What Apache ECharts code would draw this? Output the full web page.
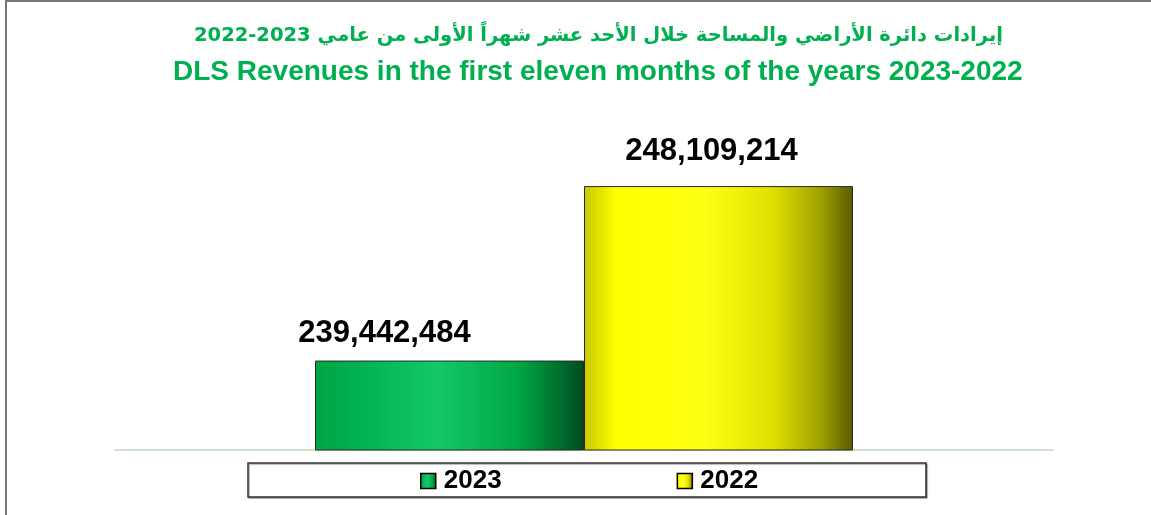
<!DOCTYPE html>
<html>
<head>
<meta charset="utf-8">
<script src="https://cdn.jsdelivr.net/npm/echarts@6/dist/echarts.min.js"></script>
<style>
html,body{margin:0;padding:0;background:#fff;}
#c{width:1151px;height:515px;}
</style>
</head>
<body>
<div id="c"></div>
<script>
const titleAr = 'إيرادات دائرة الأراضي والمساحة خلال الأحد عشر شهراً الأولى من عامي 2023-2022';
const titleEn = 'DLS Revenues in the first eleven months of the years 2023-2022';
const categories = [''];
const seriesNames = ['2023', '2022'];
const values2023 = [239442484];
const values2022 = [248109214];

const chart = echarts.init(document.getElementById('c'));
const fmt = v => v.toLocaleString('en-US');

const greenGrad = new echarts.graphic.LinearGradient(0, 0, 1, 0, [
  {offset: 0, color: '#00a444'},
  {offset: 0.15, color: '#00b050'},
  {offset: 0.45, color: '#14c868'},
  {offset: 0.75, color: '#00a846'},
  {offset: 0.92, color: '#006a2c'},
  {offset: 1, color: '#004a1e'}
]);
const yellowGrad = new echarts.graphic.LinearGradient(0, 0, 1, 0, [
  {offset: 0, color: '#c8c800'},
  {offset: 0.12, color: '#ffff00'},
  {offset: 0.45, color: '#ffff14'},
  {offset: 0.7, color: '#e0e000'},
  {offset: 0.88, color: '#a0a000'},
  {offset: 1, color: '#5a5a00'}
]);

const labelStyle = {
  show: true,
  position: 'top',
  fontFamily: 'Liberation Sans, Arial, sans-serif',
  fontWeight: 'bold',
  fontSize: 31,
  color: '#000',
  formatter: p => fmt(p.value)
};

chart.setOption({
  animation: false,
  backgroundColor: '#fff',
  title: [{
    text: titleAr,
    left: 194,
    top: 23,
    padding: 0,
    textStyle: {
      fontFamily: 'DejaVu Sans, Liberation Sans, Arial, sans-serif',
      fontWeight: 'bold',
      fontSize: 19.5,
      lineHeight: 26,
      color: '#00b050'
    }
  }, {
    text: titleEn,
    left: 173,
    top: 56,
    padding: 0,
    textStyle: {
      fontFamily: 'Liberation Sans, Arial, sans-serif',
      fontWeight: 'bold',
      fontSize: 28,
      lineHeight: 32,
      color: '#00b050'
    }
  }],
  graphic: [
    {type: 'rect', shape: {x: 6, y: 1, width: 1300, height: 700}, style: {fill: 'none', stroke: '#777', lineWidth: 2}, silent: true},
    {type: 'rect', shape: {x: 248, y: 463, width: 678, height: 34}, style: {fill: '#fff', stroke: '#333', lineWidth: 1.5, shadowColor: 'rgba(0,0,0,0.35)', shadowOffsetX: 1, shadowOffsetY: 1, shadowBlur: 1}, silent: true, z: -1}
  ],
  legend: {
    data: seriesNames,
    left: 420,
    top: 468,
    padding: 0,
    itemGap: 175,
    itemWidth: 15,
    itemHeight: 15,
    icon: 'rect',
    textStyle: {
      fontFamily: 'Liberation Sans, Arial, sans-serif',
      fontWeight: 'bold',
      fontSize: 26,
      color: '#000',
      padding: [0, 0, 0, 3]
    },
    itemStyle: {borderColor: '#000', borderWidth: 1.5}
  },
  grid: {left: 115, right: 98, top: 148, bottom: 65},
  xAxis: {
    type: 'category',
    data: categories,
    axisLine: {show: true, lineStyle: {color: '#bcd6bc', width: 1.5}},
    axisTick: {show: false},
    axisLabel: {show: false}
  },
  yAxis: {
    type: 'value',
    min: 235000000,
    max: 250000000,
    show: false,
    splitLine: {show: false}
  },
  series: [
    {
      name: seriesNames[0],
      type: 'bar',
      barWidth: 269,
      barGap: 0,
      data: values2023.map(v => ({value: v, label: {offset: [-65, -7]}})),
      itemStyle: {color: greenGrad, borderColor: '#2a2a2a', borderWidth: 1},
      label: labelStyle
    },
    {
      name: seriesNames[1],
      type: 'bar',
      barWidth: 269,
      barGap: 0,
      data: values2022.map(v => ({value: v, label: {offset: [-7, -14]}})),
      itemStyle: {color: yellowGrad, borderColor: '#2a2a2a', borderWidth: 1},
      label: labelStyle
    }
  ]
});
</script>
</body>
</html>
